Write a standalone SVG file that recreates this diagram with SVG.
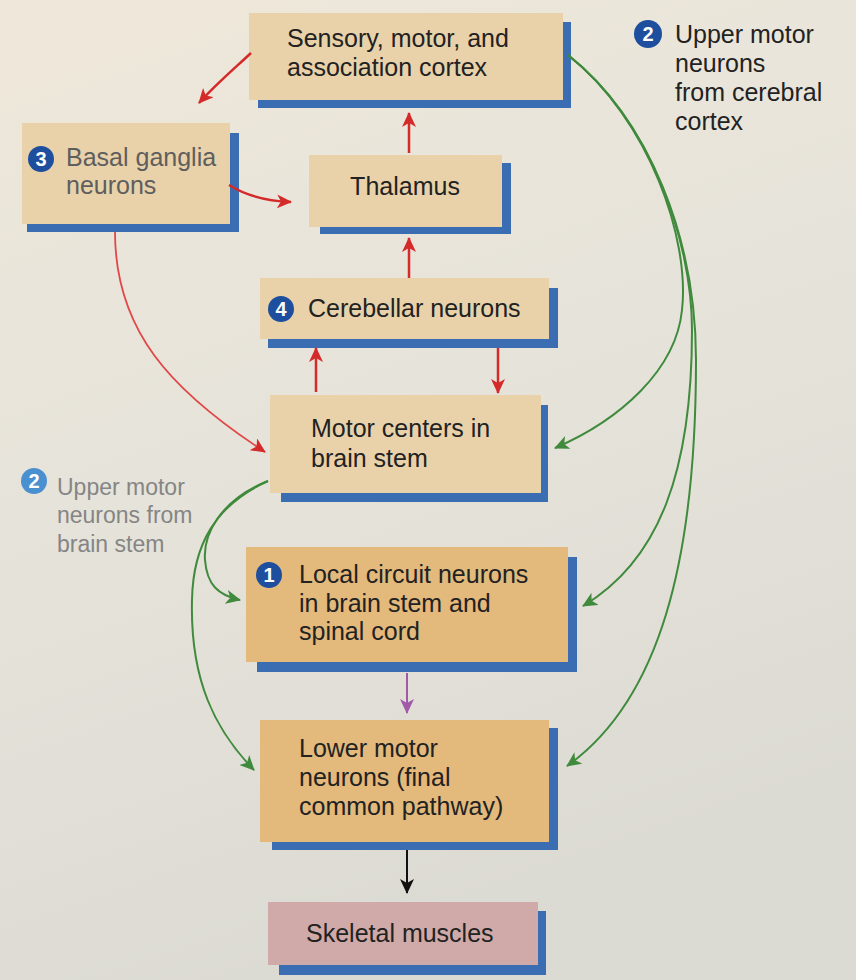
<svg xmlns="http://www.w3.org/2000/svg" width="856" height="980" viewBox="0 0 856 980">
<defs>
<linearGradient id="bg" x1="0" y1="0" x2="0.3" y2="1">
<stop offset="0" stop-color="#efe8da"/>
<stop offset="0.5" stop-color="#e6e3da"/>
<stop offset="1" stop-color="#dcdbd3"/>
</linearGradient>
<marker id="ar" markerUnits="userSpaceOnUse" markerWidth="16" markerHeight="14" refX="14" refY="7" orient="auto">
<path d="M0,0 L15,7 L0,14 L4,7 z" fill="#d42a2a"/>
</marker>
<marker id="ag" markerUnits="userSpaceOnUse" markerWidth="16" markerHeight="14" refX="14" refY="7" orient="auto">
<path d="M0,0 L15,7 L0,14 L4,7 z" fill="#3f8a3c"/>
</marker>
<marker id="ap" markerUnits="userSpaceOnUse" markerWidth="16" markerHeight="14" refX="14" refY="7" orient="auto">
<path d="M0,0 L15,7 L0,14 L4,7 z" fill="#a05aa8"/>
</marker>
<marker id="ak" markerUnits="userSpaceOnUse" markerWidth="16" markerHeight="14" refX="14" refY="7" orient="auto">
<path d="M0,0 L15,7 L0,14 L4,7 z" fill="#111"/>
</marker>
</defs>
<style>
text{font-family:"Liberation Sans",Arial,sans-serif;font-size:25px;fill:#222}
.sh{fill:#3b6db3}
.tan{fill:#e9d2aa}
.org{fill:#e3b97c}
.pink{fill:#cfaaa8}
.gray{fill:#5e5e5e}
.lg{fill:#858585}
.num{fill:#1d4f9e}
.numl{fill:#4a8fd0}
.dig{fill:#fff;font-size:20px;font-weight:bold}
.r{fill:none;stroke:#d42a2a;stroke-width:2.5}
.g{fill:none;stroke:#3f8a3c;stroke-width:2}
</style>
<rect width="856" height="980" fill="url(#bg)"/>

<g id="cortex">
<rect class="sh" x="258" y="22" width="313" height="86"/>
<rect class="tan" x="249" y="13" width="314" height="87"/>
<text x="287" y="47">Sensory, motor, and</text>
<text x="287" y="76">association cortex</text>
</g>

<g id="basal">
<rect class="sh" x="27" y="133" width="212" height="99"/>
<rect class="tan" x="22" y="123" width="208" height="101"/>
<circle class="num" cx="41" cy="159" r="13"/>
<text class="dig" x="41" y="166" text-anchor="middle">3</text>
<text class="gray" x="66" y="166">Basal ganglia</text>
<text class="gray" x="66" y="194">neurons</text>
</g>

<g id="thalamus">
<rect class="sh" x="320" y="163" width="191" height="71"/>
<rect class="tan" x="309" y="155" width="193" height="72"/>
<text x="405" y="195" text-anchor="middle">Thalamus</text>
</g>

<g id="cerebellar">
<rect class="sh" x="268" y="288" width="290" height="60"/>
<rect class="tan" x="260" y="278" width="289" height="61"/>
<circle class="num" cx="281" cy="309" r="13"/>
<text class="dig" x="281" y="316" text-anchor="middle">4</text>
<text x="308" y="317">Cerebellar neurons</text>
</g>

<g id="motorcenters">
<rect class="sh" x="281" y="405" width="267" height="97"/>
<rect class="tan" x="270" y="395" width="271" height="98"/>
<text x="311" y="437">Motor centers in</text>
<text x="311" y="467">brain stem</text>
</g>

<g id="local">
<rect class="sh" x="257" y="557" width="320" height="115"/>
<rect class="org" x="246" y="547" width="322" height="115"/>
<circle class="num" cx="269" cy="575" r="13"/>
<text class="dig" x="269" y="582" text-anchor="middle">1</text>
<text x="299" y="583">Local circuit neurons</text>
<text x="299" y="612">in brain stem and</text>
<text x="299" y="640">spinal cord</text>
</g>

<g id="lower">
<rect class="sh" x="272" y="728" width="286" height="122"/>
<rect class="org" x="260" y="720" width="289" height="122"/>
<text x="299" y="757">Lower motor</text>
<text x="299" y="786">neurons (final</text>
<text x="299" y="815">common pathway)</text>
</g>

<g id="skeletal">
<rect class="sh" x="279" y="911" width="267" height="64"/>
<rect class="pink" x="268" y="902" width="270" height="63"/>
<text x="306" y="942">Skeletal muscles</text>
</g>

<g id="label-cortex">
<circle class="num" cx="648" cy="34" r="14"/>
<text class="dig" x="648" y="41" text-anchor="middle">2</text>
<text x="675" y="43">Upper motor</text>
<text x="675" y="72">neurons</text>
<text x="675" y="101">from cerebral</text>
<text x="675" y="130">cortex</text>
</g>

<g id="label-brainstem">
<circle class="numl" cx="34" cy="481" r="13"/>
<text class="dig" x="34" y="488" text-anchor="middle">2</text>
<text class="lg" x="57" y="495" style="font-size:23px">Upper motor</text>
<text class="lg" x="57" y="523" style="font-size:23px">neurons from</text>
<text class="lg" x="57" y="552" style="font-size:23px">brain stem</text>
</g>

<g id="connectors">
<path class="r" d="M251,53 C235,68 215,85 199,103" marker-end="url(#ar)"/>
<path class="r" d="M229,185 C245,195 265,201 291,202" marker-end="url(#ar)"/>
<path class="r" d="M409,153 L409,113" marker-end="url(#ar)"/>
<path class="r" d="M409,278 L409,238" marker-end="url(#ar)"/>
<path class="r" d="M316,392 L316,348" marker-end="url(#ar)"/>
<path class="r" d="M498,348 L498,393" marker-end="url(#ar)"/>
<path d="M115,232 C115,330 170,390 265,452" fill="none" stroke="#e04848" stroke-width="1.8" marker-end="url(#ar)"/>
<path class="g" d="M568,55 C650,120 690,240 682,310 C676,370 620,420 555,448" marker-end="url(#ag)"/>
<path class="g" d="M568,55 C650,120 692,240 692,330 C692,470 660,560 583,606" marker-end="url(#ag)"/>
<path class="g" d="M568,55 C650,120 696,240 696,360 C696,560 660,700 567,766" marker-end="url(#ag)"/>
<path class="g" d="M268,481 C220,500 203,535 205,560 C207,585 218,595 240,600" marker-end="url(#ag)"/>
<path class="g" d="M268,481 C215,505 193,545 192,600 C190,680 215,730 254,770" marker-end="url(#ag)"/>
<path d="M407,673 L407,713" fill="none" stroke="#a05aa8" stroke-width="2" marker-end="url(#ap)"/>
<path d="M407,850 L407,893" fill="none" stroke="#111" stroke-width="2" marker-end="url(#ak)"/>
</g>
</svg>
